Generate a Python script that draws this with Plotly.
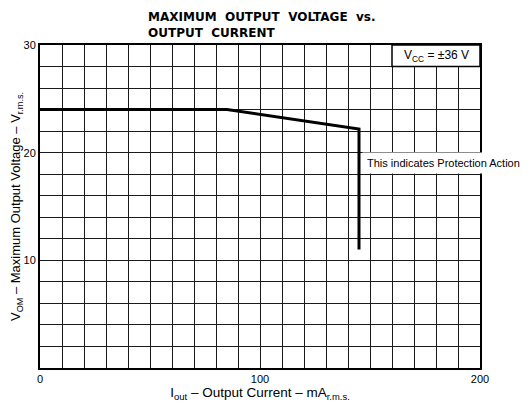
import plotly.graph_objects as go

# Data
current_ma = [0, 85, 145, 145]
voltage_v = [24.0, 24.0, 22.2, 11.0]

x_grid = list(range(0, 201, 10))
x_labels = ["0" if v == 0 else ("100" if v == 100 else ("200" if v == 200 else "")) for v in x_grid]
y_grid = list(range(0, 31, 2))
y_labels = [str(v) if v in (10, 20, 30) else "" for v in y_grid]

title_lines = ["MAXIMUM\u00a0 OUTPUT\u00a0 VOLTAGE\u00a0 vs.", "OUTPUT\u00a0 CURRENT"]
vcc_text = "V<sub>CC</sub> = ±36 V"
note_text = "This indicates Protection Action"

fig = go.Figure()
fig.add_trace(go.Scatter(
    x=current_ma, y=voltage_v, mode="lines",
    line=dict(color="black", width=3), showlegend=False, hoverinfo="skip",
))

FAM = "Liberation Sans, Arial, sans-serif"
axis_font = dict(family=FAM, size=11, color="black")

fig.update_layout(
    width=520, height=401,
    margin=dict(l=32, r=48, t=37, b=41),
    paper_bgcolor="white", plot_bgcolor="white",
    font=axis_font,
    xaxis=dict(
        range=[0, 200], tickmode="array", tickvals=x_grid, ticktext=x_labels,
        showgrid=True, gridcolor="#1a1a1a", gridwidth=1,
        showline=True, linecolor="black", linewidth=2, mirror=True,
        ticks="", zeroline=False, tickfont=axis_font, automargin=False,
        title=dict(text="I<sub>out</sub> – Output Current – mA<sub>r.m.s.</sub>",
                   font=dict(family=FAM, size=13.5, color="black"),
                   standoff=1),
    ),
    yaxis=dict(
        range=[0, 30], tickmode="array", tickvals=y_grid, ticktext=y_labels,
        showgrid=True, gridcolor="#1a1a1a", gridwidth=1,
        showline=True, linecolor="black", linewidth=2, mirror=True,
        ticks="", zeroline=False, tickfont=axis_font, automargin=False,
        title=dict(text="V<sub>OM</sub> – Maximum Output Voltage – V<sub>r.m.s.</sub>",
                   font=dict(family=FAM, size=13, color="black"),
                   standoff=4),
    ),
    shapes=[
        dict(type="rect", xref="x", yref="y", x0=160, x1=200, y0=28, y1=30,
             fillcolor="white", line=dict(color="black", width=1.5), layer="above"),
    ],
    annotations=[
        dict(text="<b>" + title_lines[0] + "</b><br><b>" + title_lines[1] + "</b>",
             xref="paper", yref="paper", x=0.24, y=1.0, yshift=37,
             xanchor="left", yanchor="top", align="left", showarrow=False,
             font=dict(family="DejaVu Sans, sans-serif", size=12, color="black")),
        dict(text=vcc_text, xref="x", yref="y", x=180, y=29, showarrow=False,
             font=dict(family=FAM, size=12, color="black")),
        dict(text=note_text, xref="x", yref="y", x=146.5, y=19, xanchor="left",
             showarrow=False, bgcolor="white", borderpad=4,
             font=dict(family=FAM, size=11, color="black")),
    ],
)

fig.write_html("out.html")
